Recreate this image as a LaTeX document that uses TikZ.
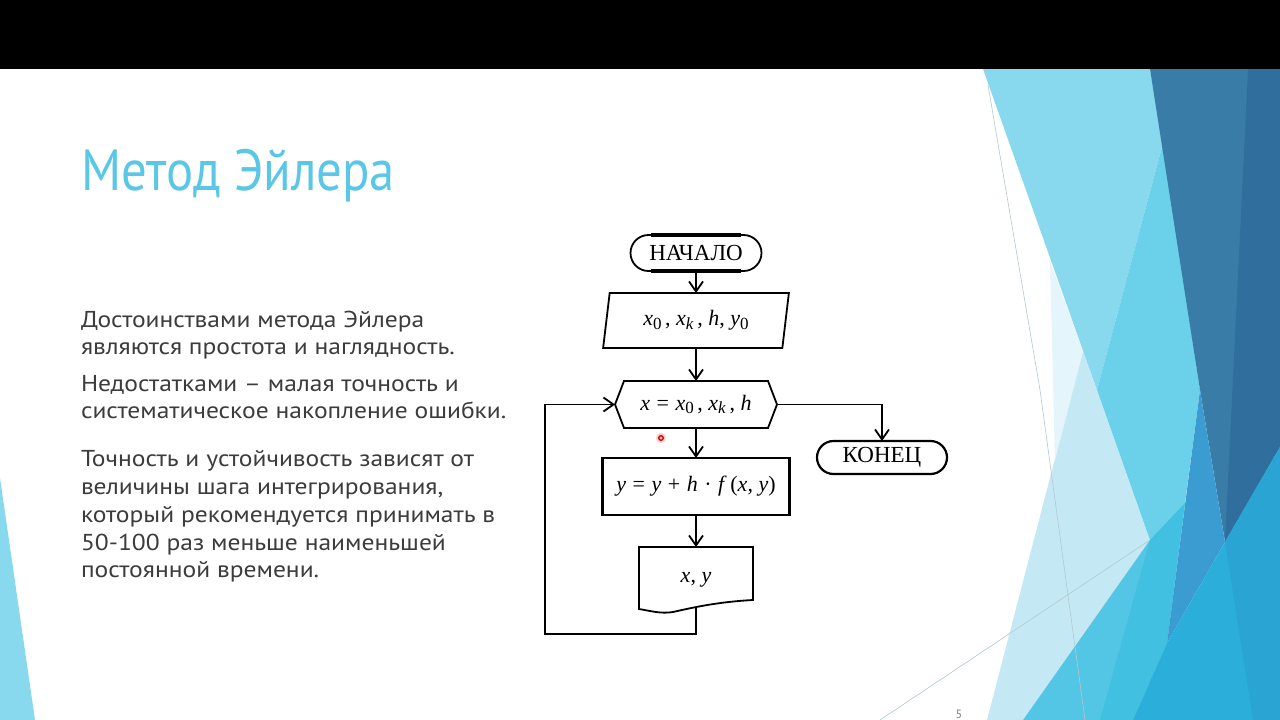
\documentclass[tikz,border=0pt]{standalone}
\usepackage{fontspec}
\setmainfont{Liberation Serif}
\newfontfamily\titlefont[FakeStretch=0.875]{PT Sans}
\newfontfamily\bodyfont[FakeStretch=1.11]{PT Sans}
\newfontfamily\pagefont{PT Sans}
\newcommand{\mysub}[1]{\raisebox{-0.35ex}{\fontsize{17}{17}\selectfont #1}}
\newcommand{\opsp}{\ \kern1pt}
\usetikzlibrary{arrows.meta,shapes.misc,shapes.geometric,calc}
\definecolor{titlecol}{HTML}{5BC7E6}
\definecolor{bodycol}{HTML}{3C3C3C}
\definecolor{cPale}{HTML}{C4E9F5}
\definecolor{cVPale}{HTML}{E4F5FB}
\definecolor{cLight}{HTML}{88D8EE}
\definecolor{cMed}{HTML}{6BD1EA}
\definecolor{cMedLow}{HTML}{52C6E4}
\definecolor{cMedLowB}{HTML}{42C0E1}
\definecolor{cDark}{HTML}{3A7CA8}
\definecolor{cDarker}{HTML}{306F9D}
\definecolor{cStripe}{HTML}{3A9CD0}
\definecolor{cBright}{HTML}{2BAFDA}
\definecolor{cBrightB}{HTML}{2AA4D2}
\definecolor{cHair}{HTML}{B4C8D0}
\begin{document}
\begin{tikzpicture}[x=1pt,y=-1pt,
  every node/.style={inner sep=0pt, outer sep=0pt},
  flowline/.style={line width=1.8pt, draw=black},
  arr/.style={flowline, -{Straight Barb[length=10pt,width=14pt]}},
  termbox/.style={draw, line width=1.8pt, rounded rectangle, minimum width=131pt, minimum height=36pt, font=\fontsize{23}{26}\selectfont},
  iobox/.style={draw, line width=1.8pt, trapezium, trapezium left angle=78.7, trapezium right angle=101.3, trapezium stretches=true, minimum width=186pt, minimum height=55pt, font=\fontsize{22}{26}\selectfont},
  procbox/.style={draw, line width=2.6pt, rectangle, minimum width=187pt, minimum height=57pt, font=\fontsize{22}{26}\selectfont},
  hidden/.style={rectangle, font=\fontsize{22}{26}\selectfont},
  bodytext/.style={anchor=base west, text=bodycol, font=\bodyfont\fontsize{23}{28}\selectfont},
  hair/.style={draw=cHair, line width=0.6pt}
]
\useasboundingbox (0,0) rectangle (1280,720);
\fill[white] (0,0) rectangle (1280,720);
\fill[black] (0,0) rectangle (1280,69);

% right decoration
\fill[cPale] (987,720) -- (1083,351) -- (1150,540) -- (1023,720) -- cycle;
\fill[cVPale] (1050,262) -- (1083,351) -- (1055,460) -- cycle;
\fill[cLight] (983,69) -- (1150,69) -- (1163,143) -- (1097,390) -- cycle;
\fill[cMed] (1163,143) -- (1200,390) -- (1185,503) -- (1150,540) -- (1097,390) -- cycle;
\fill[cMedLow] (1023,720) -- (1150,540) -- (1185,503) -- (1167,643) -- (1133,720) -- cycle;
\fill[cMedLowB] (1150,540) -- (1185,503) -- (1167,643) -- (1133,720) -- (1100,720) -- cycle;
\fill[cDark] (1150,69) -- (1280,69) -- (1280,447) -- (1225,542) -- (1200,390) -- cycle;
\fill[cDarker] (1248,69) -- (1280,69) -- (1280,447) -- (1225,542) -- cycle;
\fill[cStripe] (1200,390) -- (1225,542) -- (1167,643) -- cycle;
\fill[cBright] (1280,447) -- (1225,542) -- (1167,643) -- (1133,720) -- (1280,720) -- cycle;
\fill[cBrightB] (1280,447) -- (1225,542) -- (1253,720) -- (1280,720) -- cycle;
\draw[hair] (988,85) -- (1040,390) -- (1085,720);
\draw[hair] (880,720) -- (1150,540);
% left decoration
\fill[cLight] (0,478) -- (35,720) -- (0,720) -- cycle;

% title and body
\node[anchor=base west, text=titlecol, font=\titlefont\fontsize{58}{60}\selectfont] (title) at (81,190) {Метод Эйлера};
\node[bodytext] (b1) at (81,327) {Достоинствами метода Эйлера};
\node[bodytext] (b2) at (81,354) {являются простота и наглядность.};
\node[bodytext] (b3) at (81,391) {Недостатками – малая точность и};
\node[bodytext] (b4) at (81,418) {систематическое накопление ошибки.};
\node[bodytext] (b5) at (81,466) {Точность и устойчивость зависят от};
\node[bodytext] (b6) at (81,494) {величины шага интегрирования,};
\node[bodytext] (b7) at (81,522) {который рекомендуется принимать в};
\node[bodytext] (b8) at (81,550) {50-100 раз меньше наименьшей};
\node[bodytext] (b9) at (81,577) {постоянной времени.};

% flowchart
\node[termbox] (start) at (696,253) {НАЧАЛО};
\draw[line width=3.2pt] ($(start.north)+(-45,0)$) -- ($(start.north)+(45,0)$);
\draw[line width=3.2pt] ($(start.south)+(-45,0)$) -- ($(start.south)+(45,0)$);
\node[iobox] (io) at (696,320.5) {\textit{x}\mysub{0}\,, \textit{x}\mysub{\textit{k}}\,, \textit{h}, \textit{y}\mysub{0}};
\node[hidden, minimum width=162pt, minimum height=47pt] (hex) at (696,404.5) {\textit{x}\opsp=\opsp\textit{x}\mysub{0}\,, \textit{x}\mysub{\textit{k}}\,, \textit{h}};
\draw[line width=1.8pt] (hex.west) -- ($(hex.north west)+(9,0)$) -- ($(hex.north east)+(-9,0)$) -- (hex.east) -- ($(hex.south east)+(-9,0)$) -- ($(hex.south west)+(9,0)$) -- cycle;
\node[procbox] (proc) at (696,486.5) {\textit{y}\opsp=\opsp\textit{y}\opsp+\opsp\textit{h}\opsp·\opsp\textit{f}\,(\textit{x}, \textit{y})};
\node[hidden, minimum width=114pt, minimum height=60pt, text depth=0pt] (doc) at (696,577) {\textit{x}, \textit{y}};
\draw[line width=1.8pt] (doc.north west) -- (doc.north east) -- ($(doc.north west)+(114,53)$)
  .. controls ($(doc.north west)+(77,55)$) and ($(doc.north west)+(52,61)$) .. ($(doc.north west)+(34,65)$)
  .. controls ($(doc.north west)+(22,67)$) and ($(doc.north west)+(12,64)$) .. ($(doc.north west)+(0,62)$) -- cycle;
\coordinate (docb) at ($(doc.north west)+(57,60)$);
\coordinate (lc) at (545,634);
\node[termbox, minimum width=130pt, minimum height=33pt, line width=2.2pt] (stop) at (882,457.5) {КОНЕЦ};

\draw[arr] (start.south) -- (io.north);
\draw[arr] (io.south) -- (hex.north);
\draw[arr] (hex.south) -- (proc.north);
\draw[arr] (proc.south) -- (doc.north);
\draw[arr] (hex.east) -| (stop.north);
\draw[arr] (docb) |- (lc) |- (hex.west);

% pointer dot
\fill[red!20] (661,438) circle (5);
\draw[red!80!black, line width=1.3pt] (661,438) circle (2.3);
% page number
\node[anchor=south, text=gray, font=\pagefont\fontsize{12}{12}\selectfont] (pg) at (959,719) {5};
\end{tikzpicture}
\end{document}
